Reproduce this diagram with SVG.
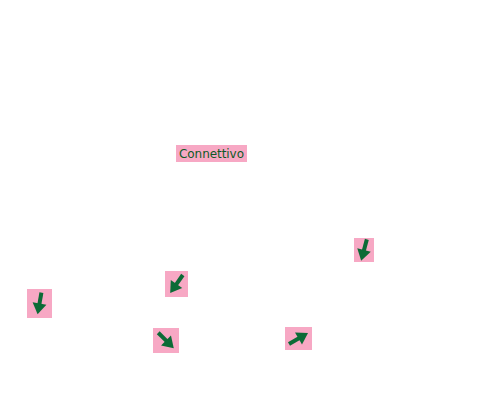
<svg xmlns="http://www.w3.org/2000/svg" width="500" height="400" viewBox="0 0 500 400">
<style>
.tile{fill:#f7a8c4}
.arr{fill:#0b6b36}
.lbl{font-family:"DejaVu Sans","Liberation Sans",sans-serif;font-size:12px;fill:#0d5a26}
</style>
<defs>
<g id="arrow">
<rect class="arr" x="-11" y="-2" width="12" height="4"/>
<polygon class="arr" points="0,-7 11,0 0,7"/>
</g>
</defs>
<rect width="500" height="400" fill="#ffffff"/>
<g id="label-connettivo">
<rect class="tile" x="176" y="145" width="71" height="17"/>
<text class="lbl" x="179" y="158" textLength="65">Connettivo</text>
</g>
<g id="icon1">
<rect class="tile" x="354" y="238" width="20" height="24"/>
<use href="#arrow" transform="translate(364,250) rotate(105)"/>
</g>
<g id="icon2">
<rect class="tile" x="165" y="271" width="23" height="26"/>
<use href="#arrow" transform="translate(176.5,284) rotate(125)"/>
</g>
<g id="icon3">
<rect class="tile" x="27" y="289" width="25" height="29"/>
<use href="#arrow" transform="translate(39.5,303.5) rotate(100)"/>
</g>
<g id="icon4">
<rect class="tile" x="153" y="328" width="26" height="25"/>
<use href="#arrow" transform="translate(166,340.5) rotate(45)"/>
</g>
<g id="icon5">
<rect class="tile" x="285" y="327" width="27" height="23"/>
<use href="#arrow" transform="translate(298.5,338.5) rotate(-30)"/>
</g>
<g id="connectors"/>
</svg>
